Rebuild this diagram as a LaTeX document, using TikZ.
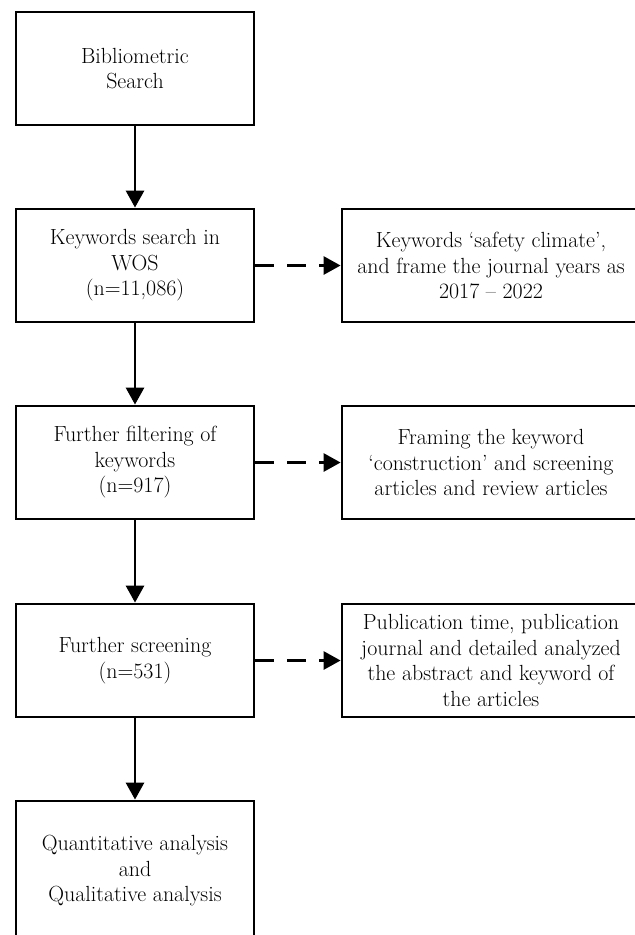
\documentclass[tikz,border=0pt]{standalone}
\usepackage{fontspec}
\usetikzlibrary{arrows.meta}
\begin{document}
\begin{tikzpicture}[x=1bp,y=-1bp,
  box/.style={draw,line width=2.8bp,minimum width=238bp,minimum height=113bp,align=center,inner sep=0pt,font=\fontsize{22}{25.6}\selectfont},
  sidebox/.style={box,minimum width=298bp},
  solidarrow/.style={line width=2.8bp,-{Triangle[length=17bp,width=18bp]}},
  dasharrow/.style={solidarrow,dash pattern=on 19bp off 13bp}]
\useasboundingbox (0,0) rectangle (635,935);
\node[box] (b1) at (135,68.5) {Bibliometric\\Search};
\node[box] (b2) at (135,265.5) {Keywords search in\\WOS\\(n=11,086)};
\node[box] (b3) at (135,462.5) {Further filtering of\\keywords\\(n=917)};
\node[box] (b4) at (135,660.5) {Further screening\\(n=531)};
\node[box,minimum height=140bp] (b5) at (135,871) {Quantitative analysis\\and\\Qualitative analysis};
\node[sidebox] (s2) at (491,265.5) {Keywords ‘safety climate’,\\and frame the journal years as\\2017 – 2022};
\node[sidebox] (s3) at (491,462.5) {Framing the keyword\\‘construction’ and screening\\articles and review articles};
\node[sidebox] (s4) at (491,660.5) {Publication time, publication\\journal and detailed analyzed\\the abstract and keyword of\\the articles};
\draw[solidarrow] (b1) -- (b2);
\draw[solidarrow] (b2) -- (b3);
\draw[solidarrow] (b3) -- (b4);
\draw[solidarrow] (b4) -- (b5);
\draw[dasharrow] (b2) -- (s2);
\draw[dasharrow] (b3) -- (s3);
\draw[dasharrow] (b4) -- (s4);
\end{tikzpicture}
\end{document}
